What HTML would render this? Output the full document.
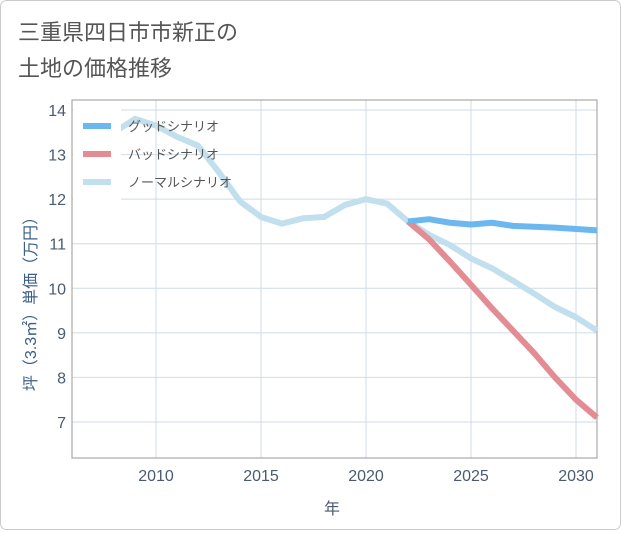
<!DOCTYPE html>
<html><head><meta charset="utf-8"><style>
body{margin:0;background:#fff;}
svg{font-family:"Liberation Sans","Noto Sans CJK JP",sans-serif;}
</style></head><body>
<svg width="621" height="530">
<rect x="0.5" y="0.5" width="620" height="529" rx="6" fill="#fff" stroke="#ccc"/>
<text x="18" y="40" font-size="22" fill="#555">三重県四日市市新正の</text>
<text x="18" y="76" font-size="22" fill="#555">土地の価格推移</text>
<g id="grid"></g>
<rect x="72" y="100" width="525" height="358" fill="none" stroke="#999"/>
<g id="series"></g>
<g id="axes"></g>
<text x="332" y="514" font-size="16" fill="#4a5a70" text-anchor="middle">年</text>
<text transform="translate(36,300) rotate(-90)" font-size="16" fill="#3a5f8a" text-anchor="middle">坪（3.3㎡）単価（万円）</text>
<g id="legend"></g>
</svg>
<script>
const years=[2008,2009,2010,2011,2012,2013,2014,2015,2016,2017,2018,2019,2020,2021,2022,2023,2024,2025,2026,2027,2028,2029,2030,2031];
const normal=[13.5,13.8,13.65,13.4,13.2,12.6,11.95,11.6,11.45,11.57,11.6,11.87,12.0,11.9,11.5,11.2,10.97,10.67,10.45,10.17,9.88,9.58,9.35,9.05];
const fYears=[2022,2023,2024,2025,2026,2027,2028,2029,2030,2031];
const good=[11.5,11.55,11.47,11.43,11.47,11.4,11.38,11.36,11.33,11.3];
const bad=[11.5,11.1,10.6,10.08,9.55,9.05,8.55,8.0,7.5,7.1];
const xTicks=[2010,2015,2020,2025,2030];
const yTicks=[7,8,9,10,11,12,13,14];
const NS="http://www.w3.org/2000/svg";
const X=v=>72+(v-2006)*21, Y=v=>110+(14-v)*44.57;
function mk(t,a,p){const e=document.createElementNS(NS,t);for(const k in a)e.setAttribute(k,a[k]);document.getElementById(p).appendChild(e);return e;}
xTicks.forEach(t=>{const l=mk('line',{x1:X(t),x2:X(t),y1:100,y2:458,stroke:'#cfdbe6'},'grid');


const tx=mk('text',{x:X(t),y:481,'font-size':16,fill:'#4a5a70','text-anchor':'middle'},'axes');tx.textContent=t;

});
yTicks.forEach(t=>{const l=mk('line',{x1:72,x2:597,y1:Y(t),y2:Y(t),stroke:'#cfdbe6'},'grid');


const tx=mk('text',{x:66,y:Y(t)+6,'font-size':16,fill:'#4a5a70','text-anchor':'end'},'axes');tx.textContent=t;

});
function line(xs,ys,c,n){const p=mk('polyline',{points:xs.map((x,i)=>X(x)+','+Y(ys[i])).join(' '),fill:'none',stroke:c,'stroke-width':6,'stroke-linejoin':'round'},'series');

}
line(years,normal,'#c2dfee','normal-line');
line(fYears,bad,'#e38c93','bad-line');
line(fYears,good,'#6bb8f0','good-line');
const lg=mk('rect',{x:73,y:108,width:48,height:92,fill:'#fff'},'legend');


[['グッドシナリオ','#6bb8f0'],['バッドシナリオ','#e38c93'],['ノーマルシナリオ','#c2dfee']].forEach((d,i)=>{const y=126+i*28;
const s=mk('line',{x1:83,x2:111,y1:y,y2:y,stroke:d[1],'stroke-width':6},'legend');


const t=mk('text',{x:128,y:y+5,'font-size':13,fill:'#555'},'legend');t.textContent=d[0];

});
</script>
</body></html>
